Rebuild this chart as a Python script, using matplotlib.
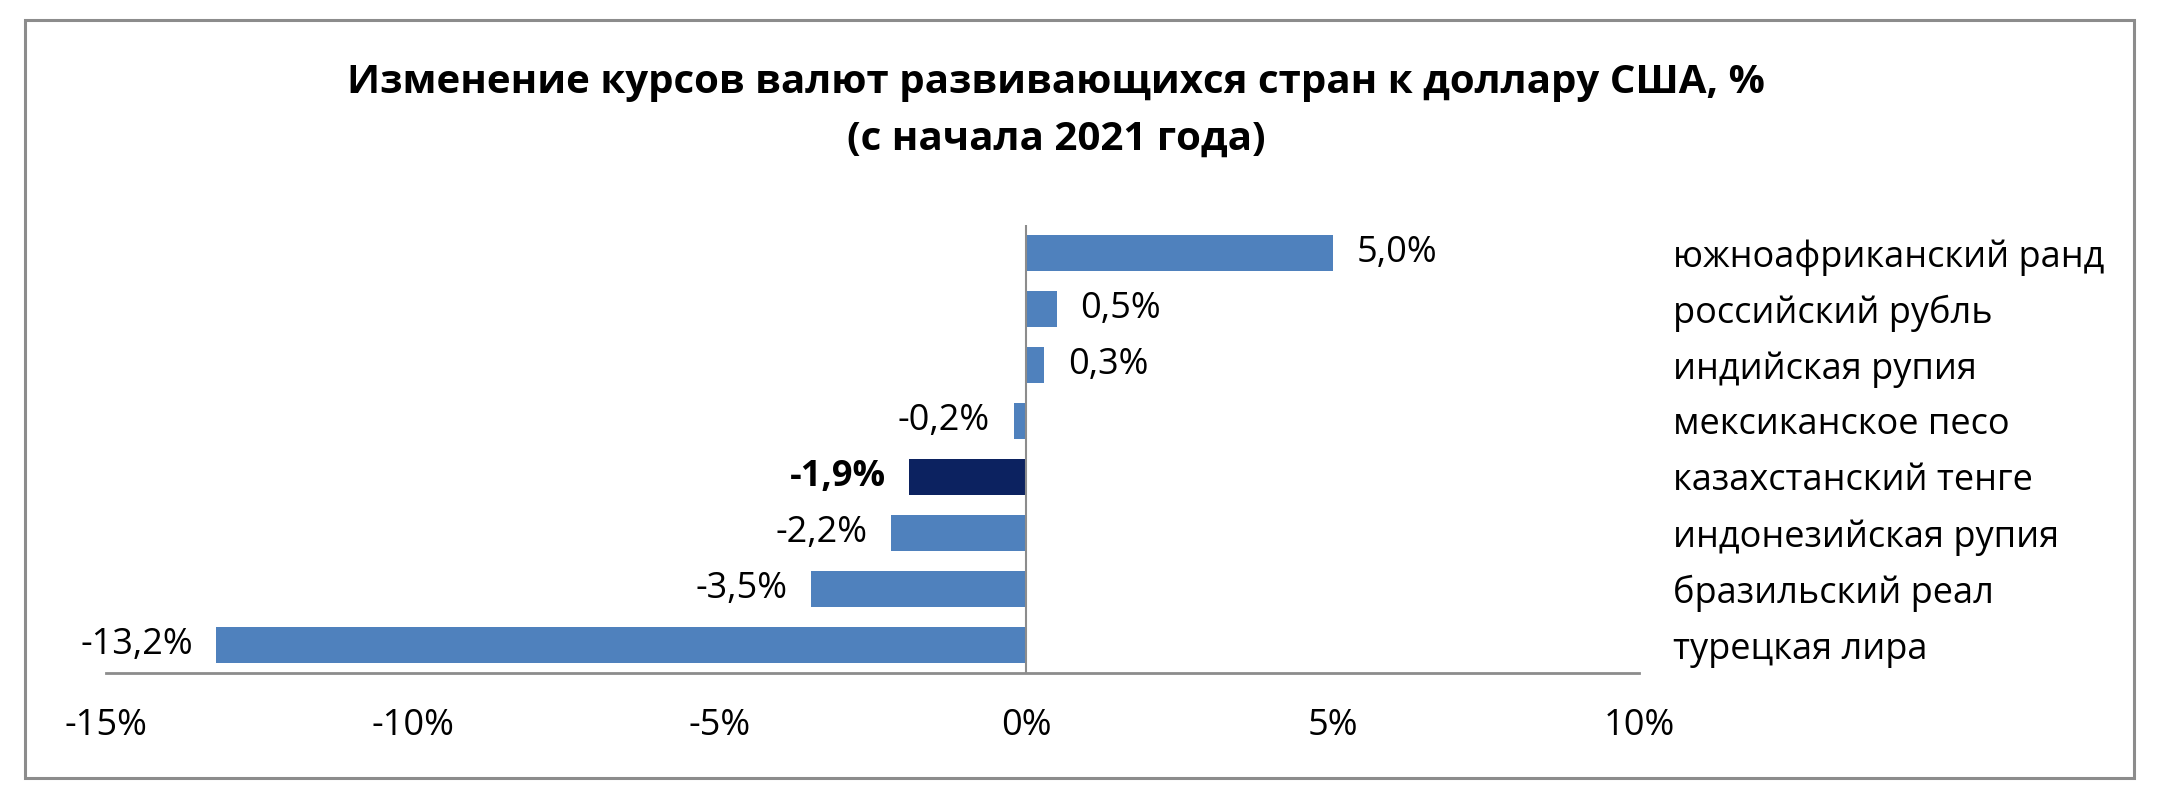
import matplotlib.pyplot as plt
from matplotlib.patches import Rectangle

plt.rcParams['font.family'] = ['Open Sans', 'DejaVu Sans']

currencies = ['южноафриканский ранд', 'российский рубль', 'индийская рупия',
              'мексиканское песо', 'казахстанский тенге', 'индонезийская рупия',
              'бразильский реал', 'турецкая лира']
changes = [5.0, 0.5, 0.3, -0.2, -1.9, -2.2, -3.5, -13.2]
highlight = 'казахстанский тенге'
x_ticks = [-15, -10, -5, 0, 5, 10]
x_tick_labels = ['-15%', '-10%', '-5%', '0%', '5%', '10%']

BLUE = '#4F81BD'
NAVY = '#0C2260'

fig = plt.figure(figsize=(21.6, 7.89), dpi=100)
fig.patches.append(Rectangle((0.0116, 0.014), 0.9765, 0.961, transform=fig.transFigure,
                             fill=False, edgecolor='#8c8c8c', linewidth=2.2))

ax = fig.add_axes([0.049, 0.147, 0.710, 0.568])

ypos = list(range(len(currencies)))
colors = [NAVY if c == highlight else BLUE for c in currencies]
ax.barh(ypos, changes, height=0.64, color=colors, zorder=2)

for y, v, c in zip(ypos, changes, currencies):
    txt = f"{v:.1f}%".replace('.', ',')
    bold = 'bold' if c == highlight else 'normal'
    if v >= 0:
        ax.annotate(txt, (v, y), xytext=(17, 0), textcoords='offset points',
                    ha='left', va='center', fontsize=26, fontweight=bold)
    else:
        ax.annotate(txt, (v, y), xytext=(-17, 0), textcoords='offset points',
                    ha='right', va='center', fontsize=26, fontweight=bold)

ax.set_xlim(-15, 10)
ax.set_ylim(len(currencies) - 0.5, -0.5)
ax.set_xticks(x_ticks)
ax.set_xticklabels(x_tick_labels, fontsize=26)
ax.set_yticks(ypos)
ax.set_yticklabels(currencies, fontsize=26)
ax.yaxis.tick_right()
ax.tick_params(axis='y', length=0, pad=24)
ax.tick_params(axis='x', length=0, pad=25)

for s in ['top', 'right', 'left']:
    ax.spines[s].set_visible(False)
ax.spines['bottom'].set_color('#8c8c8c')
ax.spines['bottom'].set_linewidth(2)
ax.axvline(0, color='#8c8c8c', linewidth=1.5, zorder=3)

fig.text(0.489, 0.895, 'Изменение курсов валют развивающихся стран к доллару США, %',
         ha='center', va='center', fontsize=29, fontweight='bold')
fig.text(0.489, 0.823, '(с начала 2021 года)',
         ha='center', va='center', fontsize=29, fontweight='bold')

fig.savefig('out.png', dpi=100, facecolor='white')
